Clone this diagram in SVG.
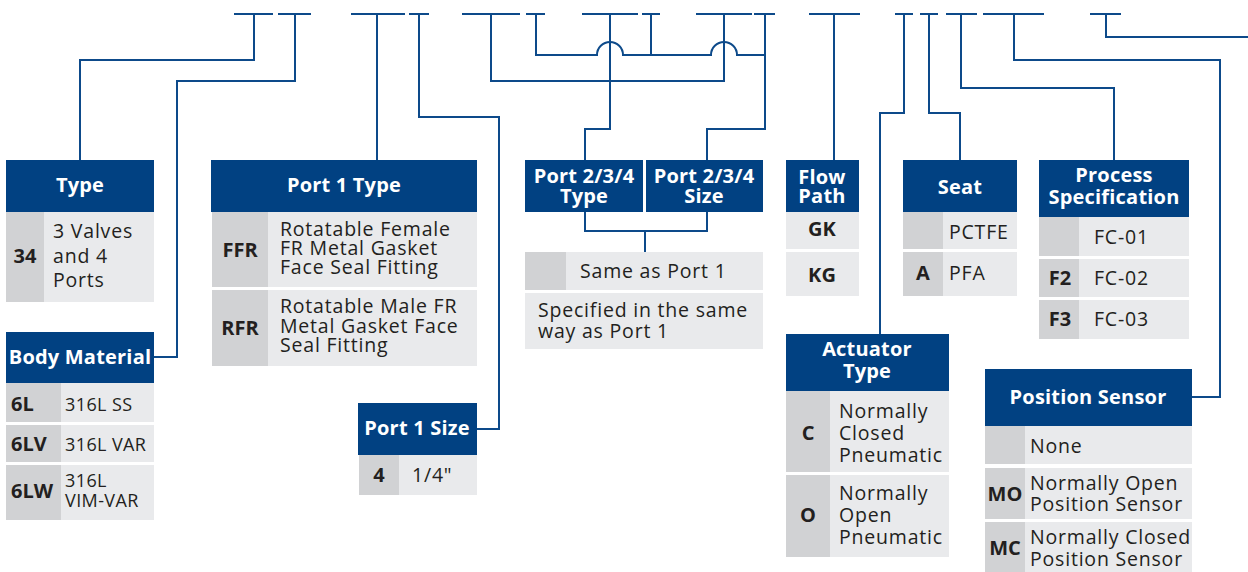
<svg xmlns="http://www.w3.org/2000/svg" width="1248" height="572" viewBox="0 0 1248 572">
<style>
.hd{fill:#014182}
.cd{fill:#d1d2d4}
.vl{fill:#e9eaec}
.ln{fill:none;stroke:#0d4a8a;stroke-width:2}
.ht{font-family:"Open Sans","Noto Sans",sans-serif;font-weight:bold;font-size:20px;letter-spacing:0.2px;fill:#ffffff;text-anchor:middle}
.ct{font-family:"Open Sans","Noto Sans",sans-serif;font-weight:bold;font-size:20px;fill:#231f20;text-anchor:middle}
.cl{font-family:"Open Sans","Noto Sans",sans-serif;font-weight:bold;font-size:20px;fill:#231f20}
.tx{font-family:"Open Sans","Noto Sans",sans-serif;font-size:19.5px;letter-spacing:0.8px;fill:#231f20}
.ts{font-family:"Open Sans","Noto Sans",sans-serif;font-size:18px;letter-spacing:0.4px;fill:#231f20}
</style>
<rect width="1248" height="572" fill="#ffffff"/>
<g id="connectors">
<path class="ln" d="M234 14H273M278 14H311M351 14H405M409 14H429M462 14H520M526 14H545M582 14H638M642 14H660M696 14H752M754 14H775M809 14H860M895 14H913M920 14H938M946 14H977M983 14H1044M1090 14H1121"/>
<path class="ln" d="M254 14V60H80V160"/>
<path class="ln" d="M295 14V81H177V357H154"/>
<path class="ln" d="M377 14V160"/>
<path class="ln" d="M419 14V117H499V429H477"/>
<path class="ln" d="M491 14V81H724V14"/>
<path class="ln" d="M610 14V129H585V160"/>
<path class="ln" d="M536 14V55H597A13 13 0 0 1 623 55H711A13 13 0 0 1 737 55H765M651 14V55M765 14V129H707V160"/>
<path class="ln" d="M585 212V231H707V212M645 231V252"/>
<path class="ln" d="M834 14V160"/>
<path class="ln" d="M904 14V113H880V334"/>
<path class="ln" d="M929 14V113H960V160"/>
<path class="ln" d="M961 14V88H1114V160"/>
<path class="ln" d="M1014 14V60H1220V397H1192"/>
<path class="ln" d="M1106 14V37H1248"/>
</g>
<g id="type">
<rect class="hd" x="6" y="160" width="148" height="52"/>
<text class="ht" x="80" y="192">Type</text>
<rect class="cd" x="6" y="212" width="38" height="90"/>
<rect class="vl" x="44" y="212" width="110" height="90"/>
<text class="ct" x="25" y="263">34</text>
<text class="tx" x="53" y="238">3 Valves</text>
<text class="tx" x="53" y="263">and 4</text>
<text class="tx" x="53" y="287">Ports</text>
</g>
<g id="body-material">
<rect class="hd" x="6" y="332" width="148" height="51"/>
<text class="ht" x="80" y="364">Body Material</text>
<rect class="cd" x="6" y="383" width="55" height="39"/>
<rect class="vl" x="61" y="383" width="93" height="39"/>
<text class="cl" x="11" y="411">6L</text>
<text class="ts" x="65" y="411">316L SS</text>
<rect class="cd" x="6" y="425" width="55" height="37"/>
<rect class="vl" x="61" y="425" width="93" height="37"/>
<text class="cl" x="11" y="451">6LV</text>
<text class="ts" x="65" y="451">316L VAR</text>
<rect class="cd" x="6" y="465" width="55" height="55"/>
<rect class="vl" x="61" y="465" width="93" height="55"/>
<text class="cl" x="11" y="498">6LW</text>
<text class="ts" x="65" y="487">316L</text>
<text class="ts" x="65" y="507">VIM-VAR</text>
</g>
<g id="port1-type">
<rect class="hd" x="211" y="160" width="266" height="52"/>
<text class="ht" x="344" y="192">Port 1 Type</text>
<rect class="cd" x="212" y="212" width="56" height="75"/>
<rect class="vl" x="268" y="212" width="209" height="75"/>
<text class="ct" x="240" y="257">FFR</text>
<text class="tx" x="280" y="236">Rotatable Female</text>
<text class="tx" x="280" y="255">FR Metal Gasket</text>
<text class="tx" x="280" y="274">Face Seal Fitting</text>
<rect class="cd" x="212" y="290" width="56" height="76"/>
<rect class="vl" x="268" y="290" width="209" height="76"/>
<text class="ct" x="240" y="335">RFR</text>
<text class="tx" x="280" y="313">Rotatable Male FR</text>
<text class="tx" x="280" y="333">Metal Gasket Face</text>
<text class="tx" x="280" y="352">Seal Fitting</text>
</g>
<g id="port1-size">
<rect class="hd" x="358" y="403" width="119" height="52"/>
<text class="ht" x="417" y="435">Port 1 Size</text>
<rect class="cd" x="359" y="455" width="40" height="40"/>
<rect class="vl" x="399" y="455" width="78" height="40"/>
<text class="ct" x="379" y="482">4</text>
<text class="tx" x="412" y="482">1/4"</text>
</g>
<g id="port234-type">
<rect class="hd" x="525" y="160" width="118" height="52"/>
<text class="ht" x="584" y="183">Port 2/3/4</text>
<text class="ht" x="584" y="203">Type</text>
</g>
<g id="port234-size">
<rect class="hd" x="646" y="160" width="117" height="52"/>
<text class="ht" x="704" y="183">Port 2/3/4</text>
<text class="ht" x="704" y="203">Size</text>
</g>
<g id="port234-options">
<rect class="cd" x="525" y="252" width="41" height="38"/>
<rect class="vl" x="566" y="252" width="197" height="38"/>
<text class="tx" x="580" y="278">Same as Port 1</text>
<rect class="vl" x="525" y="293" width="238" height="56"/>
<text class="tx" x="538" y="317">Specified in the same</text>
<text class="tx" x="538" y="338">way as Port 1</text>
</g>
<g id="flow-path">
<rect class="hd" x="786" y="160" width="73" height="52"/>
<text class="ht" x="822" y="184">Flow</text>
<text class="ht" x="822" y="203">Path</text>
<rect class="vl" x="786" y="212" width="73" height="37"/>
<text class="ct" x="822" y="236">GK</text>
<rect class="vl" x="786" y="252" width="73" height="44"/>
<text class="ct" x="822" y="282">KG</text>
</g>
<g id="seat">
<rect class="hd" x="903" y="160" width="114" height="52"/>
<text class="ht" x="960" y="194">Seat</text>
<rect class="cd" x="903" y="212" width="40" height="37"/>
<rect class="vl" x="943" y="212" width="74" height="37"/>
<text class="tx" x="949" y="239">PCTFE</text>
<rect class="cd" x="903" y="252" width="40" height="44"/>
<rect class="vl" x="943" y="252" width="74" height="44"/>
<text class="ct" x="923" y="280">A</text>
<text class="tx" x="949" y="280">PFA</text>
</g>
<g id="process-specification">
<rect class="hd" x="1039" y="160" width="150" height="57"/>
<text class="ht" x="1114" y="182">Process</text>
<text class="ht" x="1114" y="204">Specification</text>
<rect class="cd" x="1039" y="217" width="40" height="39"/>
<rect class="vl" x="1079" y="217" width="110" height="39"/>
<text class="tx" x="1094" y="244">FC-01</text>
<rect class="cd" x="1039" y="259" width="40" height="38"/>
<rect class="vl" x="1079" y="259" width="110" height="38"/>
<text class="ct" x="1060" y="285">F2</text>
<text class="tx" x="1094" y="285">FC-02</text>
<rect class="cd" x="1039" y="300" width="40" height="39"/>
<rect class="vl" x="1079" y="300" width="110" height="39"/>
<text class="ct" x="1060" y="326">F3</text>
<text class="tx" x="1094" y="326">FC-03</text>
</g>
<g id="actuator-type">
<rect class="hd" x="786" y="334" width="163" height="57"/>
<text class="ht" x="867" y="356">Actuator</text>
<text class="ht" x="867" y="378">Type</text>
<rect class="cd" x="786" y="391" width="44" height="81"/>
<rect class="vl" x="830" y="391" width="119" height="81"/>
<text class="ct" x="808" y="440">C</text>
<text class="tx" x="839" y="418">Normally</text>
<text class="tx" x="839" y="440">Closed</text>
<text class="tx" x="839" y="462">Pneumatic</text>
<rect class="cd" x="786" y="475" width="44" height="82"/>
<rect class="vl" x="830" y="475" width="119" height="82"/>
<text class="ct" x="808" y="522">O</text>
<text class="tx" x="839" y="500">Normally</text>
<text class="tx" x="839" y="522">Open</text>
<text class="tx" x="839" y="544">Pneumatic</text>
</g>
<g id="position-sensor">
<rect class="hd" x="985" y="369" width="207" height="57"/>
<text class="ht" x="1088" y="404">Position Sensor</text>
<rect class="cd" x="985" y="426" width="40" height="38"/>
<rect class="vl" x="1025" y="426" width="167" height="38"/>
<text class="tx" x="1030" y="453">None</text>
<rect class="cd" x="985" y="468" width="40" height="51"/>
<rect class="vl" x="1025" y="468" width="167" height="51"/>
<text class="ct" x="1005" y="501">MO</text>
<text class="tx" x="1030" y="490">Normally Open</text>
<text class="tx" x="1030" y="511">Position Sensor</text>
<rect class="cd" x="985" y="522" width="40" height="50"/>
<rect class="vl" x="1025" y="522" width="167" height="50"/>
<text class="ct" x="1005" y="555">MC</text>
<text class="tx" x="1030" y="544">Normally Closed</text>
<text class="tx" x="1030" y="566">Position Sensor</text>
</g>
</svg>
